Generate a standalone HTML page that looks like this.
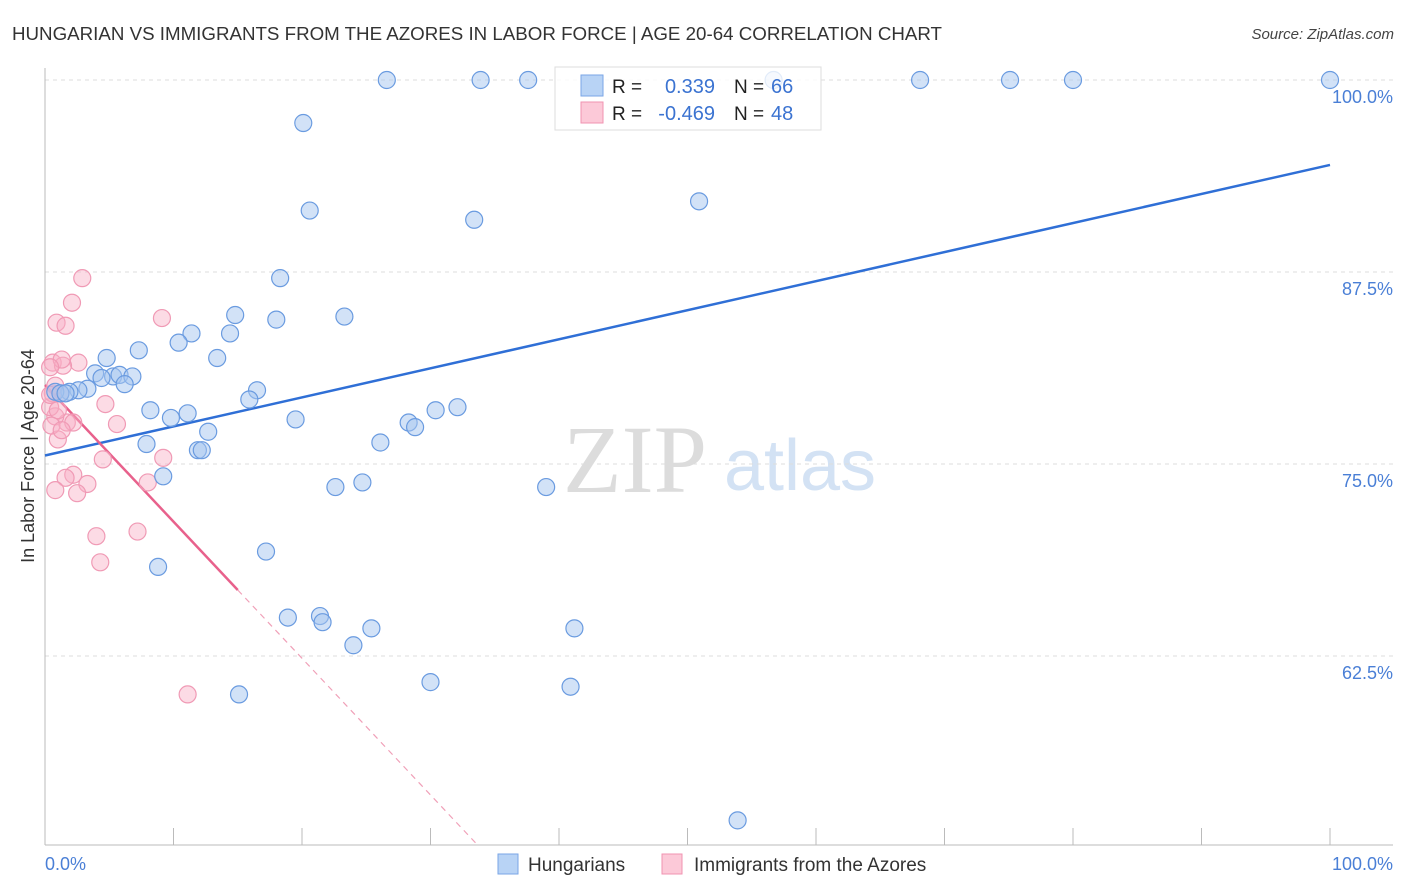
<!DOCTYPE html>
<html><head><meta charset="utf-8"><style>
body{margin:0;background:#fff;font-family:"Liberation Sans",sans-serif;}
#wrap{position:relative;width:1406px;height:892px;overflow:hidden;}
</style></head><body>
<div id="wrap">
<svg id="chart" width="1406" height="892" xmlns="http://www.w3.org/2000/svg">
<text x="12" y="40" font-size="18" fill="#333" textLength="930" lengthAdjust="spacingAndGlyphs">HUNGARIAN VS IMMIGRANTS FROM THE AZORES IN LABOR FORCE | AGE 20-64 CORRELATION CHART</text>
<text x="1394" y="39" font-size="15" fill="#444" text-anchor="end" font-style="italic">Source: ZipAtlas.com</text>
<text x="635" y="492" font-size="96" fill="#dcdcdc" text-anchor="middle" font-family="Liberation Serif,serif">ZIP</text>
<text x="800" y="490" font-size="72" fill="#d3e2f4" text-anchor="middle">atlas</text>
<g id="grid"></g><g id="axes"></g><g id="trends"></g><g id="pts"></g>
<text transform="translate(34,456) rotate(-90)" font-size="18" fill="#333" text-anchor="middle">In Labor Force | Age 20-64</text>
<text x="45" y="870" font-size="18" fill="#4a7fd6">0.0%</text>
<text x="1393" y="870" font-size="18" fill="#4a7fd6" text-anchor="end">100.0%</text>
<g>
<rect x="555" y="67" width="266" height="63" fill="rgba(255,255,255,0.8)" stroke="#ddd"/>
<rect x="581" y="75" width="22" height="21" fill="#b8d3f5" stroke="#7aa6e6"/>
<rect x="581" y="102" width="22" height="21" fill="#fcc9d8" stroke="#f093b1"/>
<text x="612" y="93" font-size="19" fill="#222">R =</text>
<text x="715" y="93" font-size="20" fill="#3b73d1" text-anchor="end">0.339</text>
<text x="734" y="93" font-size="19" fill="#222">N =</text>
<text x="771" y="93" font-size="20" fill="#3b73d1">66</text>
<text x="612" y="120" font-size="19" fill="#222">R =</text>
<text x="715" y="120" font-size="20" fill="#3b73d1" text-anchor="end">-0.469</text>
<text x="734" y="120" font-size="19" fill="#222">N =</text>
<text x="771" y="120" font-size="20" fill="#3b73d1">48</text>
</g>
<g>
<rect x="498" y="854" width="20" height="20" fill="#b8d3f5" stroke="#7aa6e6"/>
<text x="528" y="871" font-size="19" fill="#333">Hungarians</text>
<rect x="662" y="854" width="20" height="20" fill="#fcc9d8" stroke="#f093b1"/>
<text x="694" y="871" font-size="19" fill="#333">Immigrants from the Azores</text>
</g>
</svg>
<script>
const yTicks=[100,87.5,75,62.5];
const yTickLabels=["100.0%","87.5%","75.0%","62.5%"];
const xTicks=[10,20,30,40,50,60,70,80,90,100];
const blueX=[26.6,33.9,37.6,56.7,68.1,75.1,80.0,100,20.1,20.6,33.4,50.9,18.3,14.8,18.0,23.3,11.4,14.4,10.4,7.3,4.8,13.4,3.9,5.3,5.8,6.8,4.4,6.2,3.3,2.6,1.9,0.8,1.2,1.6,16.5,15.9,8.2,11.1,9.8,19.5,32.1,30.4,28.3,28.8,12.7,7.9,26.1,11.9,12.2,9.2,22.6,24.7,39.0,17.2,8.8,18.9,21.4,21.6,25.4,41.2,24.0,30.0,40.9,15.1,53.9];
const blueY=[100,100,100,100,100,100,100,100,97.2,91.5,90.9,92.1,87.1,84.7,84.4,84.6,83.5,83.5,82.9,82.4,81.9,81.9,80.9,80.7,80.8,80.7,80.6,80.2,79.9,79.8,79.7,79.7,79.6,79.6,79.8,79.2,78.5,78.3,78.0,77.9,78.7,78.5,77.7,77.4,77.1,76.3,76.4,75.9,75.9,74.2,73.5,73.8,73.5,69.3,68.3,65.0,65.1,64.7,64.3,64.3,63.2,60.8,60.5,60.0,51.8];
const pinkX=[2.9,2.1,0.9,1.6,9.1,2.6,0.6,1.4,1.3,0.4,4.7,5.6,1.7,1.0,2.2,0.8,0.4,1.2,0.6,4.5,9.2,2.2,1.6,3.3,0.8,2.5,8.0,4.0,7.2,4.3,11.1,0.8,0.4,1.0,0.5,1.3];
const pinkY=[87.1,85.5,84.2,84.0,84.5,81.6,81.6,81.4,81.8,81.3,78.9,77.6,77.7,76.6,77.7,78.1,78.7,79.6,79.6,75.3,75.4,74.3,74.1,73.7,73.3,73.1,73.8,70.3,70.6,68.6,60.0,80.1,79.5,78.5,77.5,77.2];
const NS="http://www.w3.org/2000/svg";
const X0=45,X1=1330,Y100=80,PXPER=15.36;
function sx(v){return X0+(X1-X0)*v/100;}
function sy(v){return Y100+(100-v)*PXPER;}
function mk(tag,attrs,parent){const e=document.createElementNS(NS,tag);for(const k in attrs)e.setAttribute(k,attrs[k]);parent.appendChild(e);return e;}
const grid=document.getElementById('grid'),axes=document.getElementById('axes'),trends=document.getElementById('trends'),pts=document.getElementById('pts');
yTicks.forEach((t,i)=>{
 const l=mk('line',{x1:45,x2:1393,y1:sy(t),y2:sy(t),stroke:'#ddd','stroke-dasharray':'4,4'},grid);
 
 
 const tx=mk('text',{x:1393,y:sy(t)+23,'font-size':18,fill:'#4a7fd6','text-anchor':'end'},grid);
 tx.textContent=yTickLabels[i];
 
 
});
const ya=mk('line',{x1:45,x2:45,y1:68,y2:845,stroke:'#bbb'},axes);


const xa=mk('line',{x1:45,x2:1393,y1:845,y2:845,stroke:'#bbb'},axes);


xTicks.forEach(t=>{
 const l=mk('line',{x1:sx(t),x2:sx(t),y1:828,y2:845,stroke:'#bbb'},axes);
 
 
});
function fit(xs,ys){const n=xs.length;let mx=0,my=0;for(let i=0;i<n;i++){mx+=xs[i];my+=ys[i];}mx/=n;my/=n;let a=0,b=0;for(let i=0;i<n;i++){a+=(xs[i]-mx)*(ys[i]-my);b+=(xs[i]-mx)**2;}const s=a/b;return{s,c:my-s*mx,max:Math.max(...xs)};}
const bf=fit(blueX,blueY);
const bl=mk('line',{x1:sx(0),y1:sy(bf.c),x2:sx(100),y2:sy(bf.c+bf.s*100),stroke:'#2f6fd6','stroke-width':2.5},trends);


const pf=fit(pinkX,pinkY);
const pxEnd=15;
const pl=mk('line',{x1:sx(0),y1:sy(pf.c),x2:sx(pxEnd),y2:sy(pf.c+pf.s*pxEnd),stroke:'#e8618c','stroke-width':2.5},trends);


const xz=pf.s<0?Math.min(100,(50.2-pf.c)/pf.s):100;
const pd=mk('line',{x1:sx(pxEnd),y1:sy(pf.c+pf.s*pxEnd),x2:sx(xz),y2:sy(pf.c+pf.s*xz),stroke:'#f0a0b8','stroke-width':1.2,'stroke-dasharray':'6,5'},trends);


pinkX.forEach((x,i)=>{
 const c=mk('circle',{cx:sx(x),cy:sy(pinkY[i]),r:8.5,fill:'rgba(248,176,198,0.45)',stroke:'#f09ab5','stroke-width':1.2},pts);
 
 
});
blueX.forEach((x,i)=>{
 const c=mk('circle',{cx:sx(x),cy:sy(blueY[i]),r:8.5,fill:'rgba(165,198,240,0.5)',stroke:'#6a9be0','stroke-width':1.2},pts);
 
 
});
</script>
</div>
</body></html>
